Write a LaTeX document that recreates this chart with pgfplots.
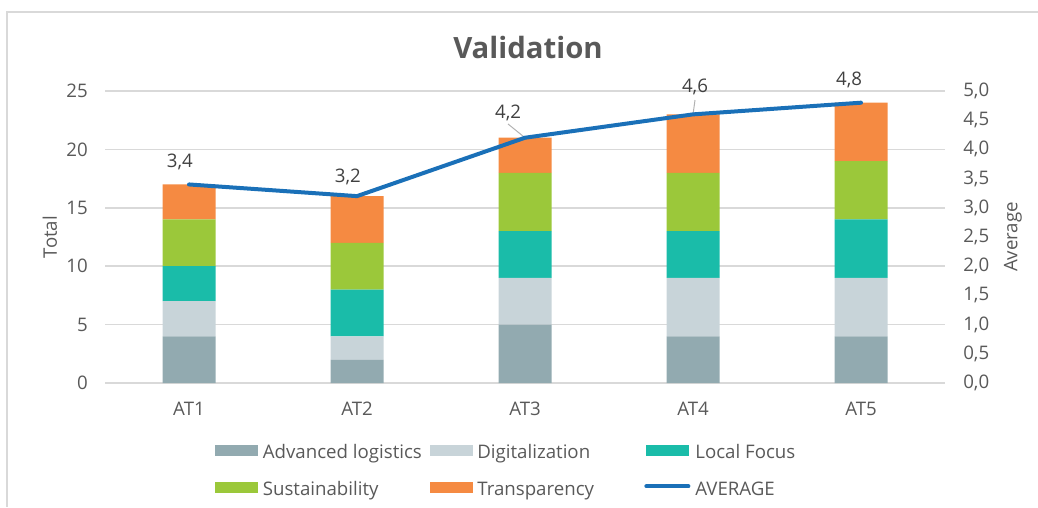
\documentclass[border=0pt]{standalone}
\usepackage{pgfplots}
\pgfplotsset{compat=1.18}
\usepackage{fontspec}
\setmainfont{Open Sans}
\definecolor{advc}{HTML}{92AAB0}
\definecolor{digc}{HTML}{C8D4D9}
\definecolor{locc}{HTML}{1ABCA9}
\definecolor{susc}{HTML}{9BC83A}
\definecolor{trac}{HTML}{F58A42}
\definecolor{avgc}{HTML}{1A70B8}
\definecolor{txtc}{HTML}{595959}
\definecolor{lblc}{HTML}{404040}
\definecolor{gridc}{HTML}{D9D9D9}
\newcommand{\lf}{\fontsize{14}{16}\selectfont}
\begin{document}
\begin{tikzpicture}
\useasboundingbox (0,0) rectangle (778.5pt,-380.25pt);
\draw[gridc, line width=1pt] (778.5pt,-9pt) -- (5.25pt,-9pt) -- (5.25pt,-380.25pt);
\node[font=\fontsize{22}{26}\selectfont\bfseries, text=txtc] at (396pt,-35.25pt) {Validation};

\begin{axis}[
  at={(78.75pt,-287.25pt)}, anchor=south west,
  scale only axis, width=630pt, height=219pt,
  xmin=-0.5, xmax=4.5, ymin=0, ymax=25,
  ybar stacked, bar width=39.75pt,
  xtick={0,1,2,3,4}, xticklabels={AT1,AT2,AT3,AT4,AT5},
  ytick={0,5,...,25},
  axis line style={draw=none},
  major tick length=0pt,
  ymajorgrids, grid style={gridc, line width=1.1pt},
  /pgf/number format/assume math mode=true,
  tick label style={font=\lf, text=txtc},
  yticklabel style={inner sep=0pt, anchor=east, xshift=-12.75pt},
  xticklabel style={inner sep=0pt, anchor=north, yshift=-14pt},
  ylabel={Total},
  every axis y label/.style={at={(axis description cs:-0.0655,0.5)}, rotate=90, anchor=center, font=\lf, text=txtc},
]
\addplot[fill=advc, draw=none] coordinates {(0,4) (1,2) (2,5) (3,4) (4,4)};
\addplot[fill=digc, draw=none] coordinates {(0,3) (1,2) (2,4) (3,5) (4,5)};
\addplot[fill=locc, draw=none] coordinates {(0,3) (1,4) (2,4) (3,4) (4,5)};
\addplot[fill=susc, draw=none] coordinates {(0,4) (1,4) (2,5) (3,5) (4,5)};
\addplot[fill=trac, draw=none] coordinates {(0,3) (1,4) (2,3) (3,5) (4,5)};
\end{axis}

\begin{axis}[
  at={(78.75pt,-287.25pt)}, anchor=south west,
  scale only axis, width=630pt, height=219pt,
  xmin=-0.5, xmax=4.5, ymin=0, ymax=5,
  axis x line=none, axis y line*=right,
  axis line style={draw=none}, major tick length=0pt,
  ytick={0,0.5,1,1.5,2,2.5,3,3.5,4,4.5,5},
  /pgf/number format/assume math mode=true,
  /pgf/number format/.cd, use comma, fixed, fixed zerofill, precision=1, /pgfplots/.cd,
  yticklabel style={inner sep=0pt, anchor=west, xshift=13.5pt, font=\lf, text=txtc},
  ylabel={Average},
  every axis y label/.style={at={(axis description cs:1.081,0.5)}, rotate=90, anchor=center, font=\lf, text=txtc},
  clip=false,
  legend columns=3, legend cell align=left,
  legend style={draw=none, fill=none, inner sep=0pt, column sep=0pt,
    at={(axis description cs:0.131,-0.1925)}, anchor=north west,
    nodes={inner sep=0pt, text height=13.9pt, text depth=13.85pt, font=\lf, text=txtc},
    /tikz/every odd column/.append style={column sep=3.75pt}},
]
\addlegendimage{legend image code/.code={\fill[advc] (0pt,2pt) rectangle (31.5pt,9.5pt);}}
\addlegendentry{\makebox[125.25pt][l]{Advanced logistics}}
\addlegendimage{legend image code/.code={\fill[digc] (0pt,2pt) rectangle (31.5pt,9.5pt);}}
\addlegendentry{\makebox[125.25pt][l]{Digitalization}}
\addlegendimage{legend image code/.code={\fill[locc] (0pt,2pt) rectangle (31.5pt,9.5pt);}}
\addlegendentry{Local Focus}
\addlegendimage{legend image code/.code={\fill[susc] (0pt,2pt) rectangle (31.5pt,9.5pt);}}
\addlegendentry{\makebox[125.25pt][l]{Sustainability}}
\addlegendimage{legend image code/.code={\fill[trac] (0pt,2pt) rectangle (31.5pt,9.5pt);}}
\addlegendentry{\makebox[125.25pt][l]{Transparency}}
\draw[gray!60, line width=0.75pt] (axis cs:1.899,4.435) -- (axis cs:2,4.2);
\draw[gray!60, line width=0.75pt] (axis cs:3.012,4.846) -- (axis cs:3,4.6);
\addplot[avgc, line width=3pt, line cap=round, line join=round,
  legend image code/.code={\draw[avgc, line width=3pt, line cap=round] (0pt,6.5pt) -- (31.5pt,6.5pt);}]
  coordinates {(0,3.4) (1,3.2) (2,4.2) (3,4.6) (4,4.8)};
\addlegendentry{AVERAGE}
\node[font=\lf, text=lblc] at (axis cs:-0.054,3.784) {3,4};
\node[font=\lf, text=lblc] at (axis cs:0.946,3.536) {3,2};
\node[font=\lf, text=lblc] at (axis cs:1.899,4.632) {4,2};
\node[font=\lf, text=lblc] at (axis cs:3.012,5.077) {4,6};
\node[font=\lf, text=lblc] at (axis cs:3.929,5.188) {4,8};
\end{axis}
\end{tikzpicture}
\end{document}
